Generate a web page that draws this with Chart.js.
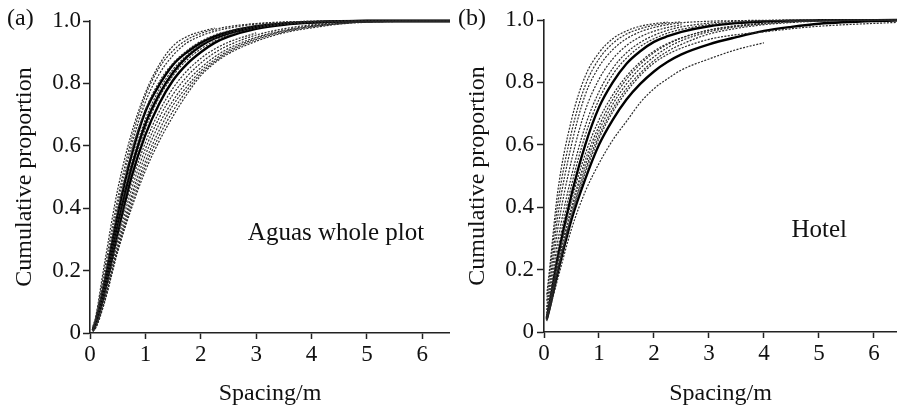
<!DOCTYPE html>
<html>
<head>
<meta charset="utf-8">
<script src="https://cdn.jsdelivr.net/npm/chart.js@4.4.0/dist/chart.umd.min.js"></script>
<style>
  body { margin: 0; background: #fff; }
  #wrapA { position: absolute; left: 0; top: 0; }
  #wrapB { position: absolute; left: 450px; top: 0; }
</style>
</head>
<body>
<div id="wrapA"><canvas id="chartA" width="450" height="415"></canvas></div>
<div id="wrapB"><canvas id="chartB" width="447" height="415"></canvas></div>
<script>
const spacing = [0.05, 0.1, 0.25, 0.5, 0.75, 1, 1.25, 1.5, 1.75, 2, 2.25, 2.5, 3, 3.5, 4, 4.5, 5, 6.5];
const xTicks = [0, 1, 2, 3, 4, 5, 6];
const yTicks = [0, 0.2, 0.4, 0.6, 0.8, 1.0];

// (a) Aguas whole plot - solid curves
const aguasSolid = [
  [0.01, 0.03, 0.15, 0.38, 0.57, 0.71, 0.795, 0.86, 0.9, 0.93, 0.951, 0.965, 0.983, 0.992, 0.997, 0.999, 1.0, 1.0],
  [0.01, 0.03, 0.14, 0.35, 0.53, 0.67, 0.765, 0.835, 0.885, 0.92, 0.944, 0.96, 0.98, 0.991, 0.996, 0.999, 1.0, 1.0],
  [0.01, 0.025, 0.12, 0.32, 0.5, 0.635, 0.735, 0.81, 0.862, 0.9, 0.93, 0.95, 0.975, 0.988, 0.995, 0.998, 1.0, 1.0]
];
// (a) dashed curves (some stop early)
const aguasDashed = [
  [0.02, 0.05, 0.21, 0.46, 0.64, 0.77, 0.86, 0.92, 0.95, 0.966, 0.977],
  [0.015, 0.045, 0.19, 0.43, 0.62, 0.76, 0.85, 0.905, 0.94, 0.96, 0.973, 0.982, 0.992, 0.997, 0.999, 1.0, 1.0, 1.0],
  [0.015, 0.04, 0.17, 0.41, 0.6, 0.74, 0.83, 0.89, 0.93, 0.952, 0.967, 0.977, 0.99, 0.996, 0.999, 1.0, 1.0, 1.0],
  [0.01, 0.035, 0.16, 0.39, 0.58, 0.715, 0.805, 0.865, 0.905, 0.935, 0.955, 0.968, 0.985, 0.994, 0.998, 1.0, 1.0, 1.0],
  [0.01, 0.03, 0.145, 0.36, 0.545, 0.685, 0.78, 0.845, 0.89, 0.923, 0.946, 0.962, 0.981, 0.991, 0.996, 0.999, 1.0, 1.0],
  [0.01, 0.028, 0.13, 0.335, 0.515, 0.655, 0.755, 0.825, 0.875, 0.91, 0.936, 0.955, 0.977, 0.989, 0.995, 0.998, 1.0, 1.0],
  [0.01, 0.025, 0.12, 0.31, 0.48, 0.61, 0.71, 0.785, 0.84, 0.88, 0.91, 0.932, 0.962],
  [0.008, 0.022, 0.11, 0.295, 0.46, 0.59, 0.69, 0.765, 0.822, 0.865, 0.898, 0.922, 0.955, 0.975, 0.988, 0.995, 0.998, 1.0],
  [0.007, 0.02, 0.1, 0.28, 0.44, 0.57, 0.67, 0.745, 0.805, 0.85, 0.885, 0.912, 0.948, 0.97, 0.985, 0.993, 0.997, 1.0],
  [0.006, 0.018, 0.095, 0.27, 0.425, 0.55, 0.65, 0.73, 0.79, 0.84, 0.876, 0.905, 0.944, 0.968, 0.983, 0.992, 0.997, 1.0],
  [0.005, 0.016, 0.092, 0.265, 0.41, 0.535, 0.632, 0.712, 0.778, 0.832, 0.87, 0.9, 0.94, 0.965, 0.981, 0.991, 0.997, 1.0],
  [0.005, 0.015, 0.09, 0.26, 0.4, 0.52, 0.615, 0.695, 0.765, 0.825, 0.865, 0.895, 0.935, 0.962, 0.978, 0.99, 0.996, 1.0]
];

// (b) Hotel - solid curves
const hotelSolid = [
  [0.045, 0.09, 0.24, 0.44, 0.6, 0.72, 0.8, 0.86, 0.9, 0.93, 0.948, 0.962, 0.98, 0.99, 0.995, 0.998, 0.999, 1.0],
  [0.04, 0.075, 0.19, 0.36, 0.49, 0.6, 0.68, 0.745, 0.795, 0.835, 0.866, 0.89, 0.922, 0.945, 0.965, 0.978, 0.988, 1.0]
];
// (b) dashed curves
const hotelDashed = [
  [0.12, 0.2, 0.45, 0.68, 0.82, 0.895, 0.94, 0.965, 0.98, 0.988, 0.993],
  [0.1, 0.18, 0.41, 0.64, 0.79, 0.875, 0.925, 0.955, 0.972, 0.983, 0.99, 0.994],
  [0.08, 0.15, 0.37, 0.6, 0.76, 0.85, 0.905, 0.94, 0.962, 0.976, 0.985, 0.991, 0.996, 0.998, 0.999, 1.0, 1.0, 1.0],
  [0.07, 0.13, 0.33, 0.55, 0.71, 0.81, 0.875, 0.918, 0.946, 0.964, 0.976, 0.985],
  [0.06, 0.11, 0.29, 0.5, 0.66, 0.77, 0.845, 0.895, 0.928, 0.951, 0.967, 0.978, 0.99, 0.996, 0.998, 0.999, 1.0, 1.0],
  [0.05, 0.1, 0.26, 0.47, 0.63, 0.745, 0.825, 0.878, 0.915, 0.94, 0.958, 0.97, 0.985, 0.993, 0.997, 0.999, 1.0, 1.0],
  [0.05, 0.09, 0.23, 0.42, 0.57, 0.68, 0.76, 0.82, 0.865, 0.9, 0.925, 0.943, 0.968, 0.982, 0.99, 0.995, 0.998, 1.0],
  [0.045, 0.085, 0.22, 0.4, 0.55, 0.66, 0.745, 0.81, 0.858, 0.895, 0.922, 0.942, 0.967, 0.98, 0.989],
  [0.045, 0.08, 0.21, 0.39, 0.535, 0.645, 0.73, 0.795, 0.845, 0.882, 0.912, 0.934, 0.962, 0.978, 0.988, 0.994, 0.997, 1.0],
  [0.04, 0.08, 0.2, 0.375, 0.52, 0.63, 0.715, 0.78, 0.83, 0.87, 0.9, 0.922, 0.955, 0.973, 0.985, 0.992, 0.996, 0.999],
  [0.035, 0.07, 0.19, 0.37, 0.51, 0.62, 0.705, 0.77, 0.822, 0.862, 0.89, 0.91, 0.938, 0.953, 0.962, 0.972, 0.98, 0.993],
  [0.04, 0.07, 0.17, 0.33, 0.45, 0.54, 0.615, 0.675, 0.735, 0.78, 0.812, 0.84, 0.875, 0.905, 0.927]
];

const serif = 'Liberation Serif';

function toPoints(ys) {
  return ys.map((y, i) => ({ x: spacing[i], y: y }));
}

function buildDatasets(solid, dashed) {
  const sets = [];
  dashed.forEach(ys => sets.push({
    data: toPoints(ys),
    borderColor: '#2a2a2a',
    borderWidth: 1.2,
    borderDash: [2, 1.4],
    pointRadius: 0,
    cubicInterpolationMode: 'monotone',
    clip: { left: 0, top: 4, right: 0, bottom: 0 }
  }));
  solid.forEach(ys => sets.push({
    data: toPoints(ys),
    borderColor: '#000',
    borderWidth: 2.4,
    pointRadius: 0,
    cubicInterpolationMode: 'monotone',
    clip: { left: 0, top: 4, right: 0, bottom: 0 }
  }));
  return sets;
}

// text inside the plot and the panel letter
const labelPlugin = {
  id: 'labels',
  afterDraw(chart, args, opts) {
    const ctx = chart.ctx;
    const sx = chart.scales.x, sy = chart.scales.y;
    ctx.save();
    ctx.fillStyle = '#111';
    ctx.font = '25px "' + serif + '"';
    ctx.textAlign = 'left';
    ctx.textBaseline = 'alphabetic';
    ctx.fillText(opts.note, sx.getPixelForValue(opts.noteX), sy.getPixelForValue(opts.noteY));
    ctx.font = '24px "' + serif + '"';
    ctx.textBaseline = 'middle';
    ctx.fillText(opts.panel, opts.panelX, 19);
    ctx.restore();
  }
};

function makeChart(id, solid, dashed, o) {
  return new Chart(document.getElementById(id), {
    type: 'line',
    data: { datasets: buildDatasets(solid, dashed) },
    plugins: [labelPlugin],
    options: {
      responsive: false,
      devicePixelRatio: 1,
      animation: false,
      layout: { padding: { top: o.top, left: 0, right: 0, bottom: 0 } },
      plugins: {
        legend: { display: false },
        tooltip: { enabled: false },
        labels: { note: o.note, noteX: o.noteX, noteY: o.noteY, panel: o.panel, panelX: o.panelX }
      },
      scales: {
        x: {
          type: 'linear',
          min: 0,
          max: o.xMax,
          afterFit: s => { s.height = o.xHeight; },
          afterBuildTicks: s => { s.ticks = xTicks.map(v => ({ value: v })); },
          ticks: { font: { family: serif, size: 23 }, color: '#111', padding: 2, maxRotation: 0,
                   callback: v => String(v) },
          grid: { drawOnChartArea: false, drawTicks: true, tickLength: 6, tickWidth: 1.5, color: '#222' },
          border: { display: true, color: '#222', width: 1.6 },
          title: { display: true, text: 'Spacing/m', font: { family: serif, size: 24 }, color: '#111',
                   padding: { top: 0, bottom: 7 } }
        },
        y: {
          min: 0,
          max: 1,
          afterFit: s => { s.width = o.yWidth; },
          afterBuildTicks: s => { s.ticks = yTicks.map(v => ({ value: v })); },
          ticks: { font: { family: serif, size: 23 }, color: '#111', padding: o.yPad,
                   callback: v => v === 0 ? '0' : v.toFixed(1) },
          grid: { drawOnChartArea: false, drawTicks: true, tickLength: 7, tickWidth: 1.5, color: '#222' },
          border: { display: true, color: '#222', width: 1.6 },
          title: { display: true, text: 'Cumulative proportion', font: { family: serif, size: 24 }, color: '#111',
                   padding: { top: o.yTitlePad, bottom: 0 } }
        }
      }
    }
  });
}

makeChart('chartA', aguasSolid, aguasDashed, {
  top: 21, xMax: 6.5, xHeight: 82, yWidth: 90, yPad: 2, yTitlePad: 10,
  note: 'Aguas whole plot', noteX: 2.85, noteY: 0.298, panel: '(a)', panelX: 7
});
makeChart('chartB', hotelSolid, hotelDashed, {
  top: 20, xMax: 6.42, xHeight: 83, yWidth: 94, yPad: 3, yTitlePad: 13,
  note: 'Hotel', noteX: 4.5, noteY: 0.305, panel: '(b)', panelX: 8
});
</script>
</body>
</html>
